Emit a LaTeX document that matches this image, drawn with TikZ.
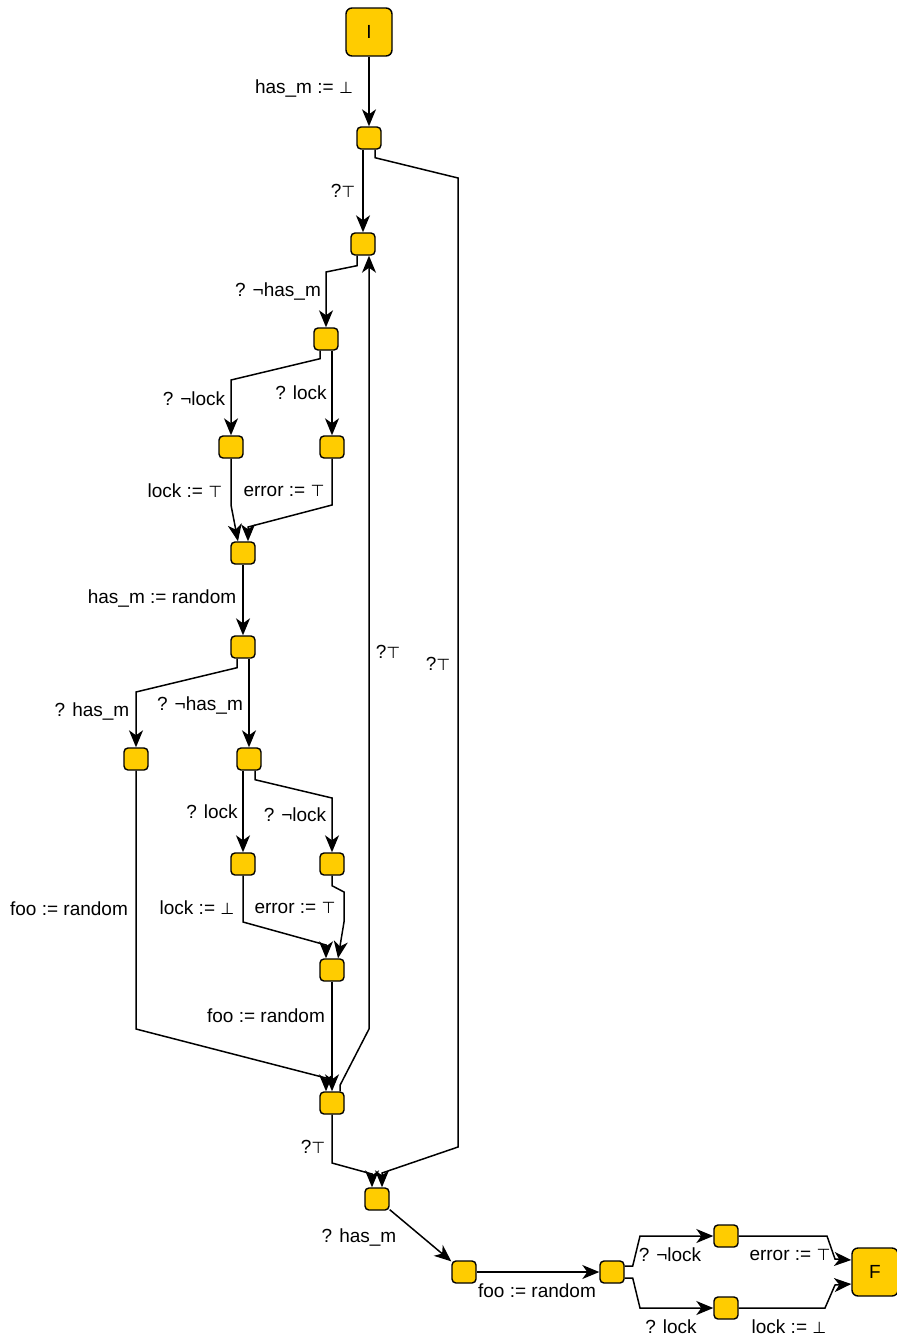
\documentclass[tikz,border=0pt]{standalone}
\usepackage{fontspec}
\setmainfont{Liberation Sans}
\newfontfamily\symfont{DejaVu Sans}
\usetikzlibrary{arrows.meta}
\definecolor{statecolor}{RGB}{255,204,0}
\newcommand{\truesym}{{\symfont\fontsize{16}{16}\selectfont ⊤}}
\newcommand{\falsesym}{{\symfont\fontsize{16}{16}\selectfont ⊥}}

\begin{document}
\begin{tikzpicture}[x=1pt,y=-1pt]
  \tikzset{
    state/.style={
      draw,
      line width=1.4pt,
      rounded corners=4pt,
      fill=statecolor,
      minimum width=24pt,
      minimum height=22pt,
      inner sep=0pt
    },
    terminal/.style={
      state,
      rounded corners=6pt,
      minimum width=46pt,
      minimum height=48pt,
      font=\fontsize{19}{22}\selectfont
    },
    edge/.style={
      line width=1.5pt,
      -{Stealth[length=17pt,width=14pt,inset=5pt]}
    },
    lbl/.style={
      font=\fontsize{19}{22}\selectfont,
      inner sep=0pt
    }
  }
  \useasboundingbox (0,0) rectangle (897,1339);

  % Draw the states
  \node[terminal] at (369,32) (I) {I};
  \node[state] at (369,138) (n1) {};
  \node[state] at (363,244) (n2) {};
  \node[state] at (326,339) (n3) {};
  \node[state] at (231,447) (n4) {};
  \node[state] at (332,447) (n5) {};
  \node[state] at (243,553) (n6) {};
  \node[state] at (243,647) (n7) {};
  \node[state] at (136,759) (n8) {};
  \node[state] at (249,759) (n9) {};
  \node[state] at (243,864) (n10) {};
  \node[state] at (332,864) (n11) {};
  \node[state] at (332,970) (n12) {};
  \node[state] at (332,1103) (n13) {};
  \node[state] at (377,1199) (n14) {};
  \node[state] at (464,1272) (n15) {};
  \node[state] at (612,1272) (n16) {};
  \node[state] at (726,1236) (n17) {};
  \node[state] at (726,1308) (n18) {};
  \node[terminal] at (875,1272) (F) {F};

  % Draw the transitions
  \draw[edge] (I) -- (n1);
  \draw[edge] (n1.south -| n2.north) -- (n2.north);
  \draw[edge] ([xshift=6]n1.south) -- ++(0,8) -- (458,178) -- (458,1147) -- (382,1173) -- ([xshift=5]n14.north);
  \draw[edge] ([xshift=-6]n2.south) -- ++(0,10) -- (326,272) -- (n3.north);
  \draw[edge] ([xshift=-6]n3.south) -- ++(0,8) -- (231,380) -- (n4.north);
  \draw[edge] ([xshift=6]n3.south) -- (n5.north);
  \draw[edge] (n4.south) -- (231,505) -- ([xshift=-5]n6.north);
  \draw[edge] (n5.south) -- (332,505) -- (248,527) -- ([xshift=5]n6.north);
  \draw[edge] (n6) -- (n7);
  \draw[edge] ([xshift=-6]n7.south) -- ++(0,9) -- (136,692) -- (n8.north);
  \draw[edge] ([xshift=6]n7.south) -- (n9.north);
  \draw[edge] ([xshift=-6]n9.south) -- (n10.north);
  \draw[edge] ([xshift=6]n9.south) -- ++(0,9) -- (332,798) -- (n11.north);
  \draw[edge] (n10.south) -- (243,922) -- (326,945) -- ([xshift=-6]n12.north);
  \draw[edge] (n11.south) -- ++(0,10) -- (344,892) -- (344,922) -- ([xshift=6]n12.north);
  \draw[edge] (n8.south) -- (136,1029) -- (326,1078) -- ([xshift=-6]n13.north);
  \draw[edge] (n12) -- (n13);
  \draw[edge] ([xshift=8]n13.north) -- ++(0,-6) -- (369,1029) -- ([xshift=6]n2.south);
  \draw[edge] (n13.south) -- (332,1163) -- (372,1174) -- ([xshift=-5]n14.north);
  \draw[edge] (n14) -- (n15);
  \draw[edge] (n15) -- (n16);
  \draw[edge] ([yshift=6]n16.east) -- ++(8,0) -- (640,1236) -- (n17.west);
  \draw[edge] ([yshift=-6]n16.east) -- ++(8,0) -- (640,1308) -- (n18.west);
  \draw[edge] (n17.east) -- (827,1236) -- (835,1259) -- ([yshift=12]F.west);
  \draw[edge] (n18.east) -- (825,1308) -- (835,1285) -- ([yshift=-12]F.west);

  % Add the labels
  \node[lbl] at (304,89) (l1) {has\_m := \falsesym};
  \node[lbl] at (343,191) (l2) {?\truesym};
  \node[lbl] at (278,291) (l3) {? ¬has\_m};
  \node[lbl] at (194,399) (l4) {? ¬lock};
  \node[lbl] at (301,393) (l5) {? lock};
  \node[lbl] at (185,491) (l6) {lock := \truesym};
  \node[lbl] at (284,491) (l7) {error := \truesym};
  \node[lbl] at (162,598) (l8) {has\_m := random};
  \node[lbl] at (92,711) (l9) {? has\_m};
  \node[lbl] at (200,705) (l10) {? ¬has\_m};
  \node[lbl] at (212,812) (l11) {? lock};
  \node[lbl] at (295,815) (l12) {? ¬lock};
  \node[lbl] at (69,909) (l13) {foo := random};
  \node[lbl] at (197,908) (l14) {lock := \falsesym};
  \node[lbl] at (295,908) (l15) {error := \truesym};
  \node[lbl] at (266,1016) (l16) {foo := random};
  \node[lbl] at (388,652) (l17) {?\truesym};
  \node[lbl] at (438,664) (l18) {?\truesym};
  \node[lbl] at (313,1147) (l19) {?\truesym};
  \node[lbl] at (359,1237) (l20) {? has\_m};
  \node[lbl] at (537,1291) (l21) {foo := random};
  \node[lbl] at (670,1255) (l22) {? ¬lock};
  \node[lbl] at (671,1327) (l23) {? lock};
  \node[lbl] at (790,1255) (l24) {error := \truesym};
  \node[lbl] at (789,1327) (l25) {lock := \falsesym};

\end{tikzpicture}
\end{document}
